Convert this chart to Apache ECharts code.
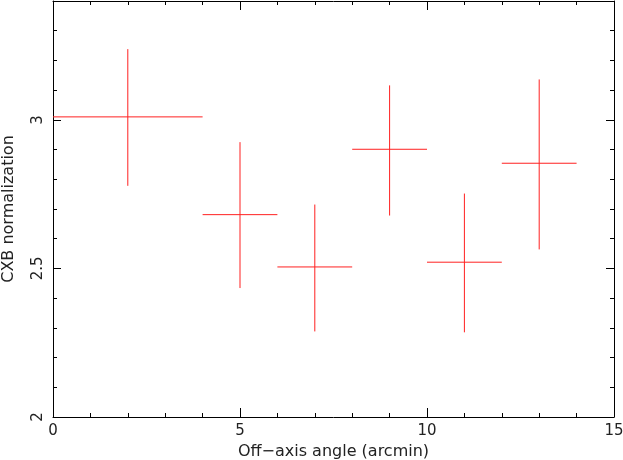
<!DOCTYPE html>
<html>
<head>
<meta charset="utf-8">
<script src="https://cdn.jsdelivr.net/npm/echarts@6/dist/echarts.min.js"></script>
<style>html,body{margin:0;padding:0;background:#fff}#c{width:623px;height:460px}</style>
</head>
<body>
<div id="c"></div>
<script>
// Data
const xCenter = [2, 5, 7, 9, 11, 13];
const xHalfWidth = [2, 1, 1, 1, 1, 1];
const yValue = [3.010, 2.681, 2.505, 2.901, 2.521, 2.854];
const yLow = [2.778, 2.434, 2.288, 2.678, 2.285, 2.564];
const yHigh = [3.238, 2.925, 2.715, 3.116, 2.752, 3.136];
const xTickLabels = ['0', '5', '10', '15'];
const yTickLabels = ['2', '2.5', '3'];

const font = 'DejaVu Sans';
const txt = '#222';
const data = xCenter.map((x, i) => [x, xHalfWidth[i], yValue[i], yLow[i], yHigh[i]]);

const chart = echarts.init(document.getElementById('c'), null, {renderer: 'canvas'});
const axLine = {show: true, lineStyle: {color: '#000', width: 1}};
const yMin = 2, yMax = 3.4;
chart.setOption({
  animation: false,
  backgroundColor: '#fff',
  grid: {left: 53, right: 9, top: 1, bottom: 43, containLabel: false, outerBoundsMode: 'none'},
  xAxis: [
    {type: 'value', position: 'bottom', min: 0, max: 15, interval: 5,
     axisLine: axLine, splitLine: {show: false},
     axisTick: {show: true, inside: true, length: 9, lineStyle: {color: '#000'}},
     minorTick: {show: true, splitNumber: 5, length: 4, lineStyle: {color: '#000'}},
     axisLabel: {show: true, margin: 7, fontFamily: font, fontSize: 15, color: txt,
                 formatter: v => xTickLabels.includes(String(v)) ? String(v) : ''},
     name: 'Off\u2212axis angle (arcmin)', nameLocation: 'middle', nameGap: 26,
     nameTextStyle: {fontFamily: font, fontSize: 16, color: txt}},
    {type: 'value', position: 'top', min: 0, max: 15, interval: 5,
     axisLine: axLine, splitLine: {show: false},
     axisTick: {show: true, inside: true, length: 9, lineStyle: {color: '#000'}},
     minorTick: {show: true, splitNumber: 5, length: 4, lineStyle: {color: '#000'}},
     axisLabel: {show: false}}
  ],
  yAxis: [
    {type: 'value', position: 'left', min: yMin, max: yMax, interval: 0.5,
     axisLine: axLine, splitLine: {show: false},
     axisTick: {show: true, inside: true, length: 8, lineStyle: {color: '#000'}},
     axisLabel: {show: true, rotate: 90, margin: 7, fontFamily: font, fontSize: 15, color: txt,
                 showMaxLabel: false,
                 formatter: v => { const s = String(Math.round(v * 10) / 10); return yTickLabels.includes(s) ? s : ''; }},
     name: 'CXB normalization', nameLocation: 'middle', nameGap: 36, nameRotate: 90,
     nameTextStyle: {fontFamily: font, fontSize: 16, color: txt}},
    {type: 'value', position: 'left', min: yMin, max: yMax, interval: 0.1,
     axisLine: {show: false}, splitLine: {show: false},
     axisTick: {show: true, inside: true, length: 4, lineStyle: {color: '#000'}},
     axisLabel: {show: false}},
    {type: 'value', position: 'right', min: yMin, max: yMax, interval: 0.5,
     axisLine: axLine, splitLine: {show: false},
     axisTick: {show: true, inside: true, length: 8, lineStyle: {color: '#000'}},
     axisLabel: {show: false}},
    {type: 'value', position: 'right', min: yMin, max: yMax, interval: 0.1,
     axisLine: {show: false}, splitLine: {show: false},
     axisTick: {show: true, inside: true, length: 4, lineStyle: {color: '#000'}},
     axisLabel: {show: false}}
  ],
  series: [{
    type: 'custom',
    xAxisIndex: 0, yAxisIndex: 0,
    data: data,
    renderItem: function (params, api) {
      const x = api.value(0), hw = api.value(1), y = api.value(2), lo = api.value(3), hi = api.value(4);
      const pL = api.coord([x - hw, y]), pR = api.coord([x + hw, y]);
      const pT = api.coord([x, hi]), pB = api.coord([x, lo]);
      const st = {stroke: '#ff2020', lineWidth: 1};
      return {type: 'group', children: [
        {type: 'line', shape: {x1: pL[0], y1: pL[1], x2: pR[0], y2: pR[1]}, style: st},
        {type: 'line', shape: {x1: pT[0], y1: pT[1], x2: pB[0], y2: pB[1]}, style: st}
      ]};
    }
  }]
});
</script>
</body>
</html>
